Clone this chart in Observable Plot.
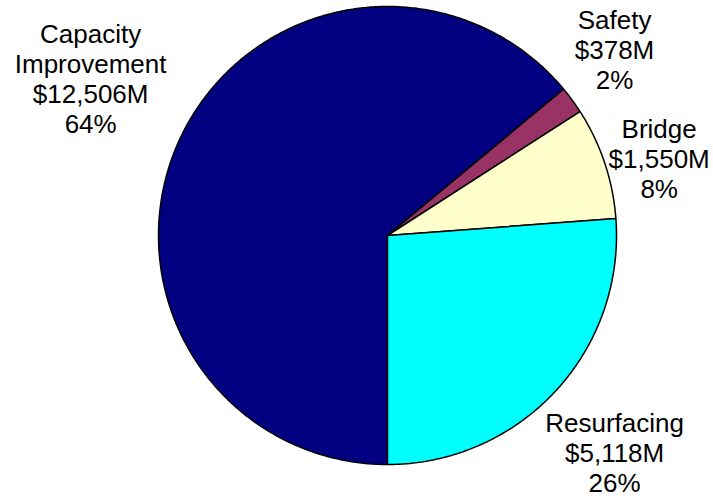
<!DOCTYPE html>
<html>
<head>
<meta charset="utf-8">
<script src="https://cdn.jsdelivr.net/npm/d3@7"></script>
<script src="https://cdn.jsdelivr.net/npm/@observablehq/plot@0.6"></script>
<style>
  html, body { margin: 0; padding: 0; background: #fff; }
  #chart svg { display: block; }
</style>
</head>
<body>
<div id="chart"></div>
<script>
// ---- data ----
const categories = ["Capacity Improvement", "Safety", "Bridge", "Resurfacing"];
const amounts = [12506, 378, 1550, 5118]; // $M
const colors = ["#000080", "#993366", "#FFFFCC", "#00FFFF"];

// ---- layout (not data) ----
const startAngle = 180;            // degrees clockwise from 12 o'clock
const labelOffset = [[-0.391, 0.508], [0.185, 0.402], [0.238, 0.200], [0.259, -0.083]];

const total = d3.sum(amounts);
const rad = (deg) => deg * Math.PI / 180;

// slice polygons in unit-circle data space
const slicePoints = [];
const labels = [];
let a0 = startAngle;
categories.forEach((name, i) => {
  const sweep = amounts[i] / total * 360;
  const a1 = a0 + sweep;
  slicePoints.push({name, x: 0, y: 0});
  const steps = Math.max(2, Math.ceil(sweep / 0.5));
  for (let k = 0; k <= steps; k++) {
    const a = rad(a0 + (a1 - a0) * k / steps);
    slicePoints.push({name, x: Math.sin(a), y: Math.cos(a)});
  }
  slicePoints.push({name, x: 0, y: 0});
  const mid = rad((a0 + a1) / 2);
  const pct = Math.round(amounts[i] / total * 100);
  labels.push({
    x: Math.sin(mid) + labelOffset[i][0],
    y: Math.cos(mid) + labelOffset[i][1],
    text: name.replace(" ", "\n") + "\n$" + d3.format(",")(amounts[i]) + "M\n" + pct + "%"
  });
  a0 = a1;
});

const chart = Plot.plot({
  width: 713,
  height: 497,
  marginLeft: 158,
  marginRight: 97,
  marginTop: 6,
  marginBottom: 33,
  x: {domain: [-1, 1], axis: null},
  y: {domain: [-1, 1], axis: null},
  color: {domain: categories, range: colors},
  style: {fontFamily: "Liberation Sans, Arial, sans-serif", background: "#fff"},
  marks: [
    Plot.line(slicePoints, {x: "x", y: "y", z: "name", fill: "name", stroke: "black", strokeWidth: 1.5, strokeLinejoin: "miter"}),
    Plot.text(labels, {x: "x", y: "y", text: "text", fontSize: 26, lineHeight: 1.154, lineAnchor: "top", textAnchor: "middle", fill: "black"})
  ]
});
document.getElementById("chart").appendChild(chart);
</script>
</body>
</html>
